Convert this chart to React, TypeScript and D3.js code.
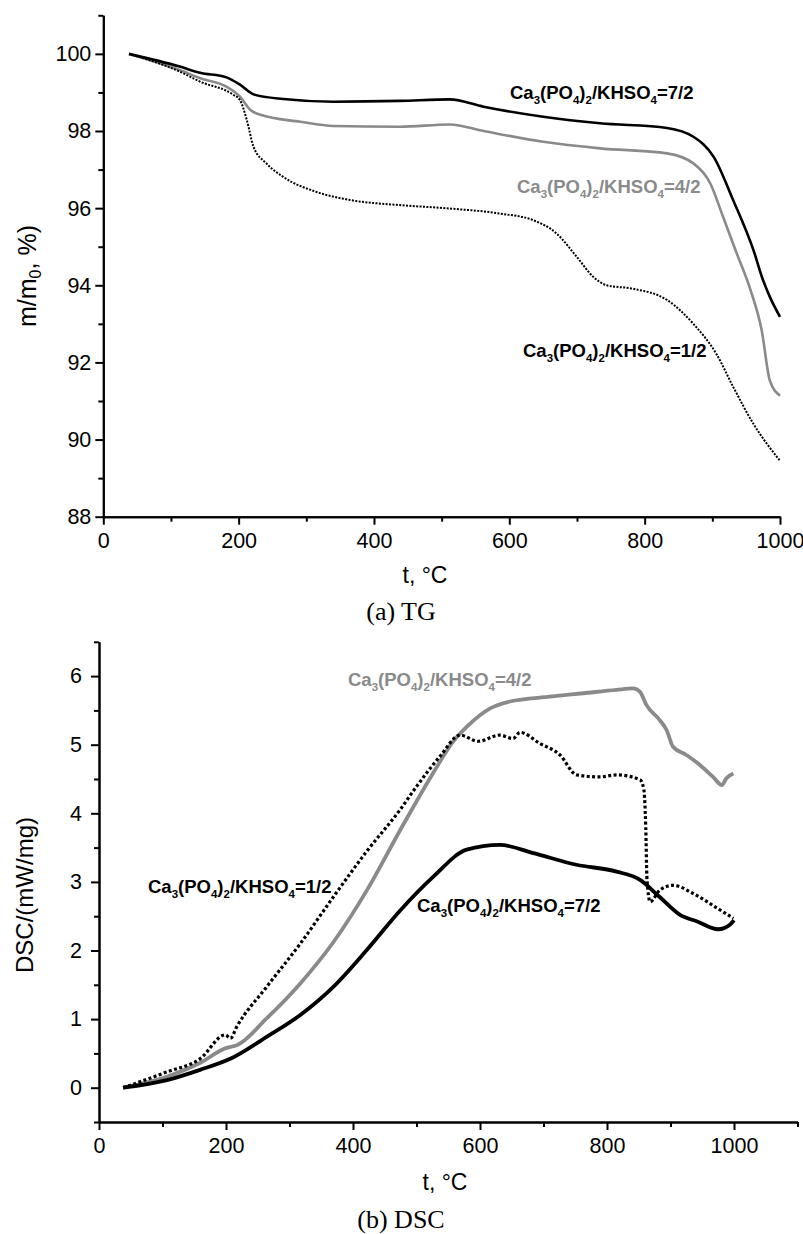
import React, { useEffect, useRef } from "react";
import * as d3 from "d3";

// ---------- Data (TG) ----------
const tgRatio72: [number, number][] = [
  [38, 100], [113, 99.67], [143, 99.51], [182, 99.39], [202, 99.2], [222, 98.95], [266, 98.83],
  [340, 98.76], [438, 98.78], [512, 98.82], [562, 98.63], [650, 98.37], [734, 98.2], [833, 98.08],
  [872, 97.85], [902, 97.33], [931, 96.2], [961, 94.9], [975, 94.13], [985, 93.7], [1000, 93.18],
];
const tgRatio42: [number, number][] = [
  [38, 100], [113, 99.58], [143, 99.37], [182, 99.15], [202, 98.89], [217, 98.55], [232, 98.42],
  [291, 98.24], [340, 98.13], [438, 98.11], [512, 98.17], [562, 98.0], [650, 97.72], [734, 97.55],
  [833, 97.42], [872, 97.16], [897, 96.64], [916, 95.77], [936, 94.83], [956, 93.9], [973, 92.83],
  [985, 91.53], [1000, 91.14],
];
const tgRatio12: [number, number][] = [
  [38, 100], [113, 99.54], [143, 99.28], [192, 98.94], [202, 98.8], [212, 98.29], [222, 97.59],
  [241, 97.16], [266, 96.81], [315, 96.42], [365, 96.21], [438, 96.08], [512, 95.99], [586, 95.86],
  [635, 95.69], [670, 95.34], [700, 94.73], [724, 94.22], [744, 94.0], [783, 93.91], [833, 93.62],
  [872, 93.0], [906, 92.22], [931, 91.36], [961, 90.4], [1000, 89.45],
];

// ---------- Data (DSC) ----------
const dscRatio72: [number, number][] = [
  [38, 0], [107, 0.11], [159, 0.26], [211, 0.44], [264, 0.74], [317, 1.06], [369, 1.47], [422, 2.01],
  [474, 2.58], [527, 3.08], [579, 3.47], [631, 3.54], [684, 3.42], [752, 3.25], [815, 3.15],
  [852, 3.03], [883, 2.78], [915, 2.52], [943, 2.42], [975, 2.31], [994, 2.38], [1000, 2.44],
];
const dscRatio42: [number, number][] = [
  [38, 0], [107, 0.16], [159, 0.36], [201, 0.58], [210, 0.6], [217, 0.62], [264, 1.01], [317, 1.52],
  [369, 2.12], [422, 2.88], [474, 3.75], [527, 4.6], [558, 5.05], [579, 5.26], [616, 5.53],
  [647, 5.63], [710, 5.7], [763, 5.75], [815, 5.8], [841, 5.82], [852, 5.77], [862, 5.58],
  [883, 5.36], [894, 5.21], [904, 4.97], [925, 4.85], [943, 4.73], [967, 4.53], [981, 4.41],
  [988, 4.51], [999, 4.58],
];
const dscRatio12: [number, number][] = [
  [38, 0], [107, 0.23], [159, 0.42], [199, 0.77], [207, 0.72], [217, 0.89], [264, 1.47], [317, 2.1],
  [369, 2.78], [422, 3.45], [474, 4.05], [500, 4.39], [537, 4.83], [569, 5.14], [597, 5.05],
  [631, 5.14], [652, 5.09], [663, 5.18], [694, 5.02], [726, 4.85], [752, 4.56], [789, 4.53],
  [815, 4.56], [852, 4.49], [858, 4.35], [861, 3.8], [863, 3.03], [868, 2.71], [883, 2.88],
  [904, 2.95], [936, 2.83], [973, 2.62], [999, 2.47],
];

// ---------- Ticks ----------
const tgXMajor = [0, 200, 400, 600, 800, 1000];
const tgXMinor = [100, 300, 500, 700, 900];
const tgYMajor = [88, 90, 92, 94, 96, 98, 100];
const tgYMinor = [89, 91, 93, 95, 97, 99, 101];
const dscXMajor = [0, 200, 400, 600, 800, 1000];
const dscXMinor = [100, 300, 500, 700, 900, 1100];
const dscYMajor = [0, 1, 2, 3, 4, 5, 6];
const dscYMinor = [-0.5, 0.5, 1.5, 2.5, 3.5, 4.5, 5.5, 6.5];

const GRAY = "#8a8a8a";
const SANS = "'Liberation Sans', Arial, Helvetica, sans-serif";
const SERIF = "'Liberation Serif', 'Times New Roman', serif";

function Label({ x, y, ratio, color }: { x: number; y: number; ratio: string; color: string }) {
  const parts: [string, boolean][] = [
    ["Ca", false], ["3", true], ["(PO", false], ["4", true], [")", false], ["2", true],
    ["/KHSO", false], ["4", true], ["=" + ratio, false],
  ];
  let prevSub = false;
  return (
    <text x={x} y={y} fill={color} fontFamily={SANS} fontWeight="bold" fontSize={18.5}>
      {parts.map(([s, sub], i) => {
        const dy = sub && !prevSub ? 5 : !sub && prevSub ? -5 : 0;
        prevSub = sub;
        return (
          <tspan key={i} dy={dy} fontSize={sub ? 11.5 : 18.5}>
            {s}
          </tspan>
        );
      })}
    </text>
  );
}

export default function App() {
  const ref = useRef<SVGGElement>(null);

  // TG scales
  const xT = d3.scaleLinear().domain([0, 1000]).range([103.3, 780]);
  const yT = d3.scaleLinear().domain([88, 101]).range([516.7, 15.3]);
  // DSC scales
  const xD = d3.scaleLinear().domain([0, 1100]).range([99, 797.5]);
  const yD = d3.scaleLinear().domain([-0.5, 6.5]).range([1122, 641.8]);

  const lineT = d3.line<[number, number]>().x((d) => xT(d[0])).y((d) => yT(d[1])).curve(d3.curveMonotoneX);
  const lineD = d3.line<[number, number]>().x((d) => xD(d[0])).y((d) => yD(d[1])).curve(d3.curveMonotoneX);

  useEffect(() => {
    if (!ref.current) return;
    const g = d3.select(ref.current);
    g.selectAll("*").remove();

    const style = (sel: d3.Selection<SVGGElement, unknown, null, undefined>, size: number) => {
      sel.selectAll(".domain").attr("stroke", "#000").attr("stroke-width", 2);
      sel.selectAll(".tick line").attr("stroke", "#000").attr("stroke-width", 2);
      sel.selectAll(".tick text").attr("font-family", SANS).attr("font-size", size).attr("fill", "#000");
    };

    // TG axes
    const tgx = g.append("g").attr("transform", `translate(0,${yT(88)})`);
    tgx.call(d3.axisBottom(xT).tickValues(tgXMajor).tickSize(8).tickSizeOuter(0).tickPadding(8).tickFormat(d3.format("d")));
    style(tgx, 21.5);
    const tgxm = g.append("g").attr("transform", `translate(0,${yT(88)})`);
    tgxm.call(d3.axisBottom(xT).tickValues(tgXMinor).tickSize(5).tickSizeOuter(0).tickFormat(() => ""));
    style(tgxm, 21.5);
    const tgy = g.append("g").attr("transform", `translate(${xT(0)},0)`);
    tgy.call(d3.axisLeft(yT).tickValues(tgYMajor).tickSize(8).tickSizeOuter(0).tickPadding(4).tickFormat(d3.format("d")));
    style(tgy, 21.5);
    const tgym = g.append("g").attr("transform", `translate(${xT(0)},0)`);
    tgym.call(d3.axisLeft(yT).tickValues(tgYMinor).tickSize(5).tickSizeOuter(0).tickFormat(() => ""));
    style(tgym, 21.5);

    // DSC axes
    const dx = g.append("g").attr("transform", `translate(0,${yD(-0.5)})`);
    dx.call(d3.axisBottom(xD).tickValues(dscXMajor).tickSize(8).tickSizeOuter(0).tickPadding(8).tickFormat(d3.format("d")));
    style(dx, 21.5);
    const dxm = g.append("g").attr("transform", `translate(0,${yD(-0.5)})`);
    dxm.call(d3.axisBottom(xD).tickValues(dscXMinor).tickSize(5).tickSizeOuter(0).tickFormat(() => ""));
    style(dxm, 21.5);
    const dy = g.append("g").attr("transform", `translate(${xD(0)},0)`);
    dy.call(d3.axisLeft(yD).tickValues(dscYMajor).tickSize(8).tickSizeOuter(0).tickPadding(9).tickFormat(d3.format("d")));
    style(dy, 21.5);
    const dym = g.append("g").attr("transform", `translate(${xD(0)},0)`);
    dym.call(d3.axisLeft(yD).tickValues(dscYMinor).tickSize(5).tickSizeOuter(0).tickFormat(() => ""));
    style(dym, 21.5);
  }, []);

  return (
    <svg
      width={803}
      height={1234}
      style={{ position: "absolute", left: 0, top: 0, background: "#fff" }}
    >
      <rect x={0} y={0} width={803} height={1234} fill="#fff" />
      {/* TG curves */}
      <path d={lineT(tgRatio42) || ""} fill="none" stroke={GRAY} strokeWidth={2.6} />
      <path d={lineT(tgRatio72) || ""} fill="none" stroke="#000" strokeWidth={2.6} />
      <path d={lineT(tgRatio12) || ""} fill="none" stroke="#000" strokeWidth={2} strokeDasharray="2 1.4" />

      {/* DSC curves */}
      <path d={lineD(dscRatio42) || ""} fill="none" stroke={GRAY} strokeWidth={3.8} />
      <path d={lineD(dscRatio72) || ""} fill="none" stroke="#000" strokeWidth={3.8} />
      <path d={lineD(dscRatio12) || ""} fill="none" stroke="#000" strokeWidth={3.2} strokeDasharray="3 2.4" />

      <g ref={ref} />

      {/* TG labels */}
      <Label x={510} y={99} ratio="7/2" color="#000" />
      <Label x={517} y={193} ratio="4/2" color={GRAY} />
      <Label x={523} y={357} ratio="1/2" color="#000" />
      <text
        transform="translate(36,276) rotate(-90)"
        textAnchor="middle"
        fontFamily={SANS}
        fontSize={25}
      >
        <tspan>m/m</tspan>
        <tspan fontSize={16} dy={5}>0</tspan>
        <tspan dy={-5}>, %)</tspan>
      </text>
      <text x={425} y={583} textAnchor="middle" fontFamily={SANS} fontSize={23}>
        t, °C
      </text>
      <text x={401} y={620} textAnchor="middle" fontFamily={SERIF} fontSize={26}>
        (a) TG
      </text>

      {/* DSC labels */}
      <Label x={348} y={686} ratio="4/2" color={GRAY} />
      <Label x={148} y={893} ratio="1/2" color="#000" />
      <Label x={417} y={912} ratio="7/2" color="#000" />
      <text
        transform="translate(33,895) rotate(-90)"
        textAnchor="middle"
        fontFamily={SANS}
        fontSize={24}
      >
        DSC/(mW/mg)
      </text>
      <text x={445} y={1190} textAnchor="middle" fontFamily={SANS} fontSize={23}>
        t, °C
      </text>
      <text x={401} y={1228} textAnchor="middle" fontFamily={SERIF} fontSize={26}>
        (b) DSC
      </text>
    </svg>
  );
}
